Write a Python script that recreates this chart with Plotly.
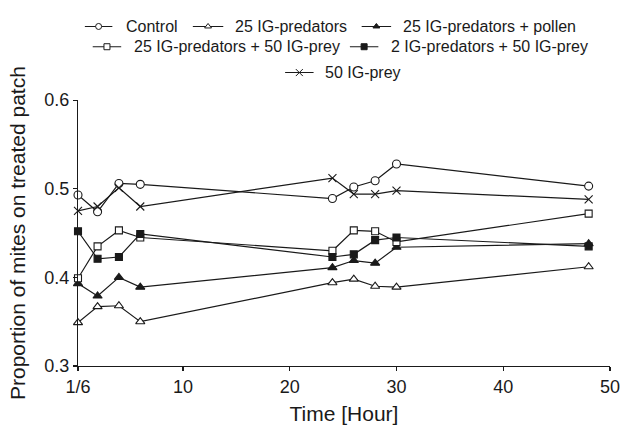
import plotly.graph_objects as go

# ---------------- data ----------------
time_h = [1/6, 2, 4, 6, 24, 26, 28, 30, 48]
x_tick_vals = [1/6, 10, 20, 30, 40, 50]
x_tick_text = ["1/6", "10", "20", "30", "40", "50"]
y_tick_vals = [0.3, 0.4, 0.5, 0.6]

series_names = ["Control", "25 IG-predators", "25 IG-predators + pollen",
                "25 IG-predators + 50 IG-prey", "2 IG-predators + 50 IG-prey", "50 IG-prey"]
control = [0.493, 0.474, 0.506, 0.505, 0.489, 0.502, 0.509, 0.528, 0.503]
ig25 = [0.349, 0.367, 0.368, 0.350, 0.394, 0.398, 0.390, 0.389, 0.412]
ig25_pollen = [0.393, 0.379, 0.400, 0.389, 0.411, 0.419, 0.416, 0.434, 0.438]
ig25_prey50 = [0.399, 0.435, 0.453, 0.445, 0.430, 0.453, 0.452, 0.440, 0.472]
ig2_prey50 = [0.452, 0.421, 0.423, 0.449, 0.423, 0.426, 0.442, 0.445, 0.435]
prey50 = [0.475, 0.480, 0.501, 0.480, 0.512, 0.494, 0.494, 0.498, 0.488]

# ---------------- styles ----------------
FONT = "Liberation Sans, Arial, sans-serif"
INK = "#1a1a1a"
styles = [
    dict(symbol="circle", fill="white", size=8),
    dict(symbol="triangle-up", fill="white", size=8),
    dict(symbol="triangle-up", fill=INK, size=8),
    dict(symbol="square", fill="white", size=7),
    dict(symbol="square", fill=INK, size=7),
    dict(symbol="x-thin", fill=INK, size=8),
]
values = [control, ig25, ig25_pollen, ig25_prey50, ig2_prey50, prey50]

fig = go.Figure()
for name, vals, st in zip(series_names, values, styles):
    fig.add_trace(go.Scatter(
        x=time_h, y=vals, mode="lines+markers", name=name, showlegend=False,
        line=dict(color=INK, width=1.2),
        marker=dict(symbol=st["symbol"], size=st["size"], color=st["fill"],
                    line=dict(color=INK, width=1.1)),
        cliponaxis=False,
    ))

# ---------------- manual legend (pixel-like coords on helper axes) ----------------
# (row y, line start, line end, text start)
legend_layout = [
    (17.7, 85, 113, 125),
    (17.7, 195, 226, 236),
    (17.7, 367, 397, 407),
    (38.5, 93, 122, 133),
    (38.5, 355, 384, 395),
    (65.0, 289, 318, 328),
]
for name, st, (ly, xa, xb, xt) in zip(series_names, styles, legend_layout):
    fig.add_trace(go.Scatter(x=[xa, xb], y=[ly, ly], mode="lines", showlegend=False,
                             line=dict(color=INK, width=1.1), xaxis="x2", yaxis="y2",
                             hoverinfo="skip"))
    fig.add_trace(go.Scatter(x=[(xa + xb) / 2], y=[ly], mode="markers", showlegend=False,
                             marker=dict(symbol=st["symbol"], size=6 if "x" not in st["symbol"] else 7,
                                         color=st["fill"], line=dict(color=INK, width=1)),
                             xaxis="x2", yaxis="y2", hoverinfo="skip", cliponaxis=False))
    fig.add_annotation(x=xt, y=ly, xref="x2", yref="y2", text=name, showarrow=False,
                       xanchor="left", yanchor="middle", font=dict(size=16, color=INK, family=FONT))

W, H = 627, 433
mt, mb, ml, mr = 8, 67, 78, 7
plot_h = H - mt - mb
y_top_px = 93.3
main_top = (H - mb - y_top_px) / plot_h
leg_bottom = 0.78
leg_bottom_px = mt + (1 - leg_bottom) * plot_h

fig.update_layout(
    width=W, height=H,
    margin=dict(l=ml, r=mr, t=mt, b=mb, pad=0),
    paper_bgcolor="white", plot_bgcolor="white",
    font=dict(family=FONT, color=INK, size=16),
    xaxis=dict(range=[1/6, 50.0001], tickvals=x_tick_vals, ticktext=x_tick_text,
               showgrid=False, zeroline=False, showline=True, linecolor=INK, linewidth=1.2,
               ticks="outside", ticklen=4, tickwidth=1.2, tickcolor=INK,
               tickfont=dict(size=18), anchor="y", ticklabeloverflow="allow",
               title=dict(text="Time [Hour]", font=dict(size=21), standoff=10)),
    yaxis=dict(range=[0.3, 0.6], tickvals=y_tick_vals, tickformat=".1f",
               domain=[0, main_top],
               showgrid=False, zeroline=False, showline=True, linecolor=INK, linewidth=1.2,
               ticks="outside", ticklen=4, tickwidth=1.2, tickcolor=INK,
               tickfont=dict(size=18), anchor="x",
               title=dict(text="Proportion of mites on treated patch", font=dict(size=21), standoff=12)),
    xaxis2=dict(domain=[0, 1], range=[ml, W - mr], visible=False, anchor="y2", fixedrange=True),
    yaxis2=dict(domain=[leg_bottom, 1], range=[leg_bottom_px, mt], visible=False, anchor="x2",
                fixedrange=True),
)

fig.write_html("out.html", config={"displayModeBar": False, "staticPlot": True},
               post_script="document.body.style.margin='0';document.body.style.overflow='hidden';")
